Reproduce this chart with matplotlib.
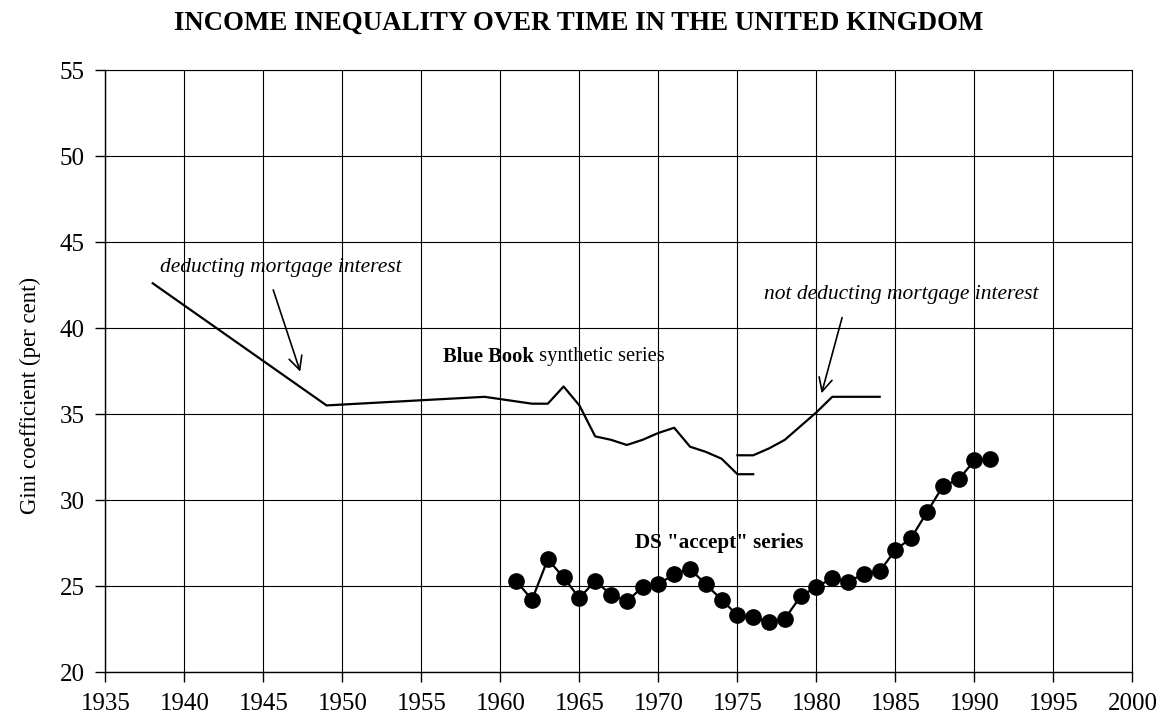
import matplotlib
matplotlib.use("Agg")
import matplotlib.pyplot as plt

plt.rcParams['font.family'] = ['Liberation Serif', 'DejaVu Serif']

# Blue Book synthetic series (deducting mortgage interest)
bb1_years = [1938, 1949, 1959, 1962, 1963, 1964, 1965, 1966, 1967, 1968, 1969, 1970, 1971, 1972, 1973, 1974, 1975, 1976]
bb1_values = [42.6, 35.5, 36.0, 35.6, 35.6, 36.6, 35.5, 33.7, 33.5, 33.2, 33.5, 33.9, 34.2, 33.1, 32.8, 32.4, 31.5, 31.5]

# Blue Book synthetic series (not deducting mortgage interest)
bb2_years = [1975, 1976, 1977, 1978, 1979, 1980, 1981, 1982, 1983, 1984]
bb2_values = [32.6, 32.6, 33.0, 33.5, 34.3, 35.1, 36.0, 36.0, 36.0, 36.0]

# DS "accept" series
ds_years = list(range(1961, 1992))
ds_values = [25.3, 24.2, 26.55, 25.5, 24.3, 25.3, 24.5, 24.1, 24.95, 25.1,
             25.7, 26.0, 25.1, 24.2, 23.3, 23.2, 22.9, 23.1, 24.4, 24.95,
             25.45, 25.25, 25.7, 25.85, 27.1, 27.8, 29.3, 30.8, 31.2, 32.3, 32.4]

x_ticks = list(range(1935, 2001, 5))
y_ticks = list(range(20, 56, 5))

fig = plt.figure(figsize=(11.65, 7.24), dpi=100)
ax = fig.add_axes([0.0904, 0.0718, 0.9721 - 0.0904, 0.9033 - 0.0718])

ax.plot(bb1_years, bb1_values, color='black', lw=1.6, zorder=3)
ax.plot(bb2_years, bb2_values, color='black', lw=1.6, zorder=3)
ax.plot(ds_years, ds_values, color='black', lw=1.6, marker='o', markersize=11, zorder=4)

ax.set_xlim(1935, 2000)
ax.set_ylim(20, 55)
ax.set_xticks(x_ticks)
ax.set_yticks(y_ticks)
ax.tick_params(axis='both', direction='out', length=7, width=1, labelsize=18, pad=8, colors='black')
ax.grid(True, color='black', lw=0.8)
ax.set_axisbelow(True)
for s in ax.spines.values():
    s.set_color('black')
    s.set_linewidth(1)
for s in ['top', 'right']:
    ax.spines[s].set_linewidth(0.8)

ax.set_ylabel('Gini coefficient (per cent)', fontsize=16.5)
ax.yaxis.set_label_coords(-0.063, 0.46)

fig.text(0.497, 0.968, 'INCOME INEQUALITY OVER TIME IN THE UNITED KINGDOM',
         ha='center', va='center', fontsize=19.4, fontweight='bold')

ax.text(1938.46, 43.49, 'deducting mortgage interest', fontsize=15.5, style='italic',
        ha='left', va='center')
ax.annotate('', xy=(1947.39, 37.31), xytext=(1945.57, 42.37),
            arrowprops=dict(arrowstyle='->', color='black', lw=1.2, mutation_scale=24))

ax.text(1976.65, 41.92, 'not deducting mortgage interest', fontsize=15.5, style='italic',
        ha='left', va='center')
ax.annotate('', xy=(1980.28, 36.05), xytext=(1981.67, 40.76),
            arrowprops=dict(arrowstyle='->', color='black', lw=1.2, mutation_scale=24))

t = ax.text(1956.4, 38.33, 'Blue Book', fontsize=14.8, fontweight='bold', ha='left', va='center')
fig.canvas.draw()
bb = t.get_window_extent()
inv = ax.transData.inverted()
x_end = inv.transform((bb.x1, bb.y0))[0]
ax.text(x_end, 38.33, ' synthetic series', fontsize=14.8, ha='left', va='center')

ax.text(1968.52, 27.52, 'DS "accept" series', fontsize=15.2, fontweight='bold', ha='left', va='center')

fig.savefig('out.png', dpi=100)
